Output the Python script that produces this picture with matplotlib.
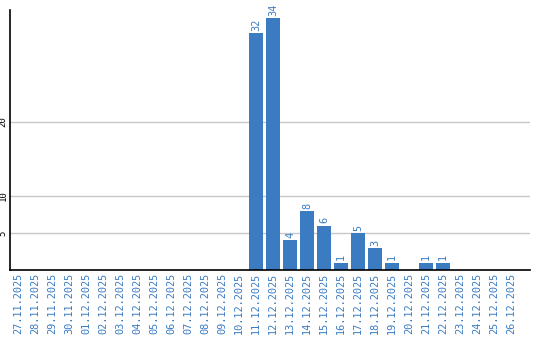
import numpy as np
import matplotlib.pyplot as plt

# dates and counts
dates = ['27.11.2025', '28.11.2025', '29.11.2025', '30.11.2025', '01.12.2025',
         '02.12.2025', '03.12.2025', '04.12.2025', '05.12.2025', '06.12.2025',
         '07.12.2025', '08.12.2025', '09.12.2025', '10.12.2025', '11.12.2025',
         '12.12.2025', '13.12.2025', '14.12.2025', '15.12.2025', '16.12.2025',
         '17.12.2025', '18.12.2025', '19.12.2025', '20.12.2025', '21.12.2025',
         '22.12.2025', '23.12.2025', '24.12.2025', '25.12.2025', '26.12.2025']
counts = [0, 0, 0, 0, 0, 0, 0, 0, 0, 0, 0, 0, 0, 0, 32,
          34, 4, 8, 6, 1, 5, 3, 1, 0, 1, 1, 0, 0, 0, 0]
yticks = [5, 10, 20]

blue = '#3a7bc2'
mono = 'DejaVu Sans Mono'

fig = plt.figure(figsize=(5.4, 3.4), dpi=100)
ax = fig.add_axes([0.0194, 0.2059, 0.963, 0.7647])

x = np.arange(len(dates))
ax.bar(x, counts, width=0.82, color=blue, zorder=2)

# value labels above the non-zero bars
for xi, v in zip(x, counts):
    if v > 0:
        ax.text(xi, v + 0.3, str(v), rotation=90, ha='center', va='bottom',
                color=blue, fontsize=7.4, family=mono)

ax.set_xlim(-0.44, 30.15)
ax.set_ylim(0, 35.14)
ax.set_xticks(x)
ax.set_xticklabels(dates, rotation=90, color=blue, fontsize=7.4, family=mono)
ax.set_yticks(yticks)
ax.set_yticklabels([str(t) for t in yticks], rotation=90, va='center',
                   fontsize=6.5, family=mono)
ax.tick_params(length=0, pad=2)
ax.yaxis.grid(True, color='#c8c8c8', linewidth=1, zorder=0)
ax.set_axisbelow(True)

for s in ['top', 'right']:
    ax.spines[s].set_visible(False)
for s in ['left', 'bottom']:
    ax.spines[s].set_color('black')
    ax.spines[s].set_linewidth(1.2)

fig.savefig('out.png', dpi=100)
